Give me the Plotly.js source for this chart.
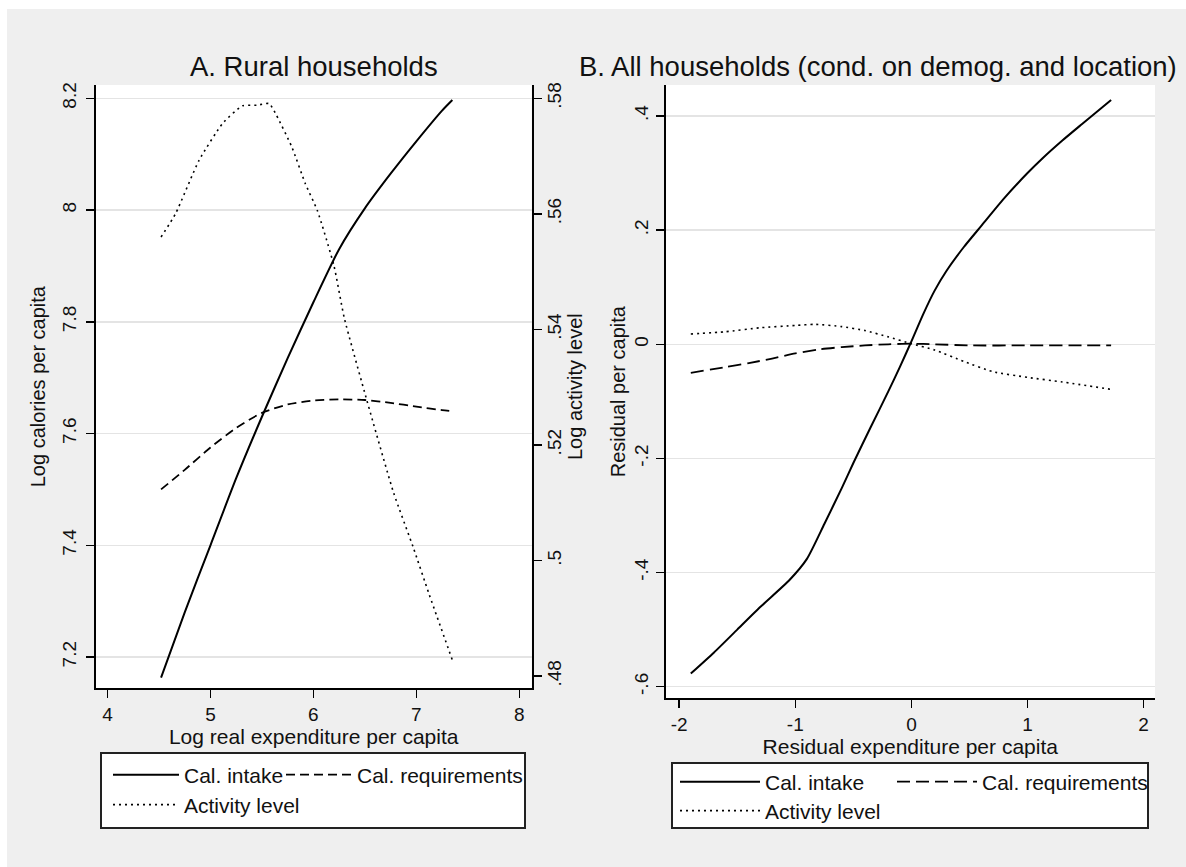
<!DOCTYPE html>
<html>
<head>
<meta charset="utf-8">
<script src="https://cdn.plot.ly/plotly-3.0.1.min.js"></script>
<style>
  html, body { margin: 0; padding: 0; background: #ffffff; }
  #chart { width: 1186px; height: 867px; }
</style>
</head>
<body>
<div id="chart"></div>
<script>
// Panel A: rural households, against log real expenditure per capita
const ruralExp        = [4.52, 4.75, 5.0, 5.25, 5.5, 5.75, 6.0, 6.25, 6.5, 6.75, 7.0, 7.25, 7.35];
const ruralCalIntake  = [7.163, 7.28, 7.40, 7.52, 7.63, 7.735, 7.835, 7.93, 8.003, 8.065, 8.123, 8.178, 8.197];
const ruralCalReq     = [7.50, 7.535, 7.575, 7.61, 7.637, 7.652, 7.659, 7.661, 7.660, 7.655, 7.648, 7.642, 7.64];
const ruralActExp     = [4.52, 4.66, 4.89, 5.12, 5.31, 5.45, 5.57, 5.64, 5.79, 5.92, 6.04, 6.20, 6.30, 6.52, 6.78, 6.97, 7.12, 7.35];
const ruralActivity   = [0.556, 0.560, 0.5693, 0.5757, 0.5787, 0.5788, 0.5791, 0.5771, 0.5716, 0.5653, 0.5605, 0.5510, 0.5420, 0.5277, 0.5117, 0.5023, 0.4944, 0.4828];

// Panel B: all households, residuals conditional on demographics and location
const residExpIntake  = [-1.9, -1.7, -1.5, -1.3, -1.05, -0.9, -0.75, -0.6, -0.5, -0.35, -0.2, -0.1, 0, 0.1, 0.2, 0.3, 0.45, 0.6, 0.8, 1.0, 1.13, 1.3, 1.47, 1.72];
const residCalIntake  = [-0.577, -0.54, -0.50, -0.46, -0.413, -0.376, -0.315, -0.252, -0.208, -0.145, -0.083, -0.040, 0.005, 0.052, 0.094, 0.128, 0.170, 0.207, 0.256, 0.300, 0.326, 0.357, 0.386, 0.428];
const residExpReq     = [-1.9, -1.6, -1.4, -1.2, -1.0, -0.8, -0.6, -0.4, -0.2, 0, 0.2, 0.5, 1.0, 1.5, 1.72];
const residCalReq     = [-0.050, -0.040, -0.033, -0.025, -0.016, -0.009, -0.005, -0.002, 0.0, 0.001, 0.0, -0.002, -0.002, -0.002, -0.002];
const residExpAct     = [-1.9, -1.6, -1.3, -1.0, -0.83, -0.6, -0.4, -0.2, 0, 0.2, 0.45, 0.7, 1.0, 1.3, 1.72];
const residActivity   = [0.018, 0.022, 0.029, 0.033, 0.035, 0.031, 0.024, 0.013, 0.001, -0.010, -0.030, -0.048, -0.058, -0.066, -0.079];

// Tick values and their Stata-style labels
const xTicksA   = [4, 5, 6, 7, 8];
const yTicksA   = [7.2, 7.4, 7.6, 7.8, 8, 8.2];
const yLabelsA  = ['7.2', '7.4', '7.6', '7.8', '8', '8.2'];
const y2TicksA  = [0.48, 0.50, 0.52, 0.54, 0.56, 0.58];
const y2LabelsA = ['.48', '.5', '.52', '.54', '.56', '.58'];
const xTicksB   = [-2, -1, 0, 1, 2];
const yTicksB   = [-0.6, -0.4, -0.2, 0, 0.2, 0.4];
const yLabelsB  = ['-.6', '-.4', '-.2', '0', '.2', '.4'];

const seriesNames = ['Cal. intake', 'Cal. requirements', 'Activity level'];

const W = 1186, H = 867;
const px = v => v / W;          // horizontal pixel -> paper
const py = v => 1 - v / H;      // vertical pixel (from top) -> paper

const FONT = 'Liberation Sans, Arial, sans-serif';
const INK = '#111111';

const solid   = { color: '#000000', width: 2, dash: 'solid', shape: 'spline', smoothing: 0.6 };
const dashedA = { color: '#000000', width: 1.8, dash: '9px,5px', shape: 'spline', smoothing: 0.6 };
const dashedB = { color: '#000000', width: 1.8, dash: '13px,6px', shape: 'spline', smoothing: 0.6 };
const dotted  = { color: '#000000', width: 1.6, dash: '2px,4px', shape: 'spline', smoothing: 0.5 };

const traces = [
  { x: ruralExp, y: ruralCalIntake, xaxis: 'x', yaxis: 'y', mode: 'lines', line: solid,
    name: seriesNames[0], legend: 'legend' },
  { x: ruralExp, y: ruralCalReq, xaxis: 'x', yaxis: 'y', mode: 'lines', line: dashedA,
    name: seriesNames[1], legend: 'legend2' },
  { x: ruralActExp, y: ruralActivity, xaxis: 'x', yaxis: 'y2', mode: 'lines', line: dotted,
    name: seriesNames[2], legend: 'legend3' },
  { x: residExpIntake, y: residCalIntake, xaxis: 'x2', yaxis: 'y3', mode: 'lines', line: solid,
    name: seriesNames[0], legend: 'legend4' },
  { x: residExpReq, y: residCalReq, xaxis: 'x2', yaxis: 'y3', mode: 'lines', line: dashedB,
    name: seriesNames[1], legend: 'legend5' },
  { x: residExpAct, y: residActivity, xaxis: 'x2', yaxis: 'y3', mode: 'lines', line: dotted,
    name: seriesNames[2], legend: 'legend6' }
];
traces.forEach(t => { t.hoverinfo = 'skip'; t.showlegend = true; });

const axisBase = {
  showline: true, linecolor: '#000000', linewidth: 2,
  ticks: 'outside', ticklen: 8, tickwidth: 1.5, tickcolor: '#000000',
  tickfont: { family: FONT, size: 19, color: INK },
  zeroline: false, fixedrange: true
};

const titleFont = size => ({ family: FONT, size: size, color: INK });

const legendBase = (x, y, itemW) => ({
  x: px(x), y: py(y), xanchor: 'left', yanchor: 'middle',
  bgcolor: 'rgba(0,0,0,0)', borderwidth: 0, itemwidth: itemW,
  font: { family: FONT, size: 21, color: INK }
});

const layout = {
  width: W, height: H,
  margin: { l: 0, r: 0, t: 0, b: 0 },
  paper_bgcolor: '#efefef',
  plot_bgcolor: '#ffffff',
  font: { family: FONT, color: INK },
  xaxis: Object.assign({}, axisBase, {
    domain: [px(95.7), px(531.7)], anchor: 'y', range: [3.885, 8.121],
    tickvals: xTicksA, ticktext: xTicksA.map(String), showgrid: false,
    title: { text: 'Log real expenditure per capita', font: titleFont(21), standoff: 0 }
  }),
  yaxis: Object.assign({}, axisBase, {
    domain: [py(688.3), py(85)], anchor: 'x', range: [7.144, 8.2238],
    tickvals: yTicksA, ticktext: yLabelsA, tickangle: -90, ticklabelstandoff: 2,
    showgrid: true, gridcolor: '#e4e4e4', gridwidth: 1.5,
    title: { text: 'Log calories per capita', font: titleFont(20), standoff: 8 }
  }),
  yaxis2: Object.assign({}, axisBase, {
    overlaying: 'y', side: 'right', anchor: 'x', range: [0.4779, 0.5823],
    tickvals: y2TicksA, ticktext: y2LabelsA, tickangle: -90, ticklabelstandoff: -4, showgrid: false,
    title: { text: 'Log activity level', font: titleFont(20), standoff: 4 }
  }),
  xaxis2: Object.assign({}, axisBase, {
    domain: [px(665.5), px(1155)], anchor: 'y3', range: [-2.118, 2.098],
    tickvals: xTicksB, ticktext: xTicksB.map(String), showgrid: false,
    title: { text: 'Residual expenditure per capita', font: titleFont(21), standoff: 0 }
  }),
  yaxis3: Object.assign({}, axisBase, {
    domain: [py(698.3), py(85)], anchor: 'x2', range: [-0.6203, 0.4543],
    tickvals: yTicksB, ticktext: yLabelsB, tickangle: -90,
    showgrid: true, gridcolor: '#e4e4e4', gridwidth: 1.5,
    title: { text: 'Residual per capita', font: titleFont(20), standoff: 0 }
  }),
  legend:  legendBase(108, 775, 66),
  legend2: legendBase(281, 775, 66),
  legend3: legendBase(108, 805, 66),
  legend4: legendBase(675, 782, 80),
  legend5: legendBase(892, 782, 80),
  legend6: legendBase(675, 811, 80),
  annotations: [
    { text: 'A. Rural households', xref: 'paper', yref: 'paper', x: px(313.7), y: py(66),
      xanchor: 'center', yanchor: 'middle', showarrow: false, font: titleFont(27.5) },
    { text: 'B. All households (cond. on demog. and location)', xref: 'paper', yref: 'paper',
      x: px(878), y: py(66), xanchor: 'center', yanchor: 'middle', showarrow: false, font: titleFont(27.5) }
  ],
  shapes: [
    // white frame strips along the top and left edges
    { type: 'rect', xref: 'paper', yref: 'paper', x0: 0, x1: 1, y0: py(9), y1: 1,
      fillcolor: '#ffffff', line: { width: 0 }, layer: 'below' },
    { type: 'rect', xref: 'paper', yref: 'paper', x0: 0, x1: px(7), y0: 0, y1: 1,
      fillcolor: '#ffffff', line: { width: 0 }, layer: 'below' },
    // legend boxes
    { type: 'rect', xref: 'paper', yref: 'paper', x0: px(101), x1: px(525), y0: py(828), y1: py(753),
      fillcolor: '#ffffff', line: { color: '#222222', width: 2 }, layer: 'below' },
    { type: 'rect', xref: 'paper', yref: 'paper', x0: px(672), x1: px(1148), y0: py(828), y1: py(763),
      fillcolor: '#ffffff', line: { color: '#222222', width: 2 }, layer: 'below' }
  ]
};

Plotly.newPlot('chart', traces, layout, { staticPlot: true, displayModeBar: false });
</script>
</body>
</html>
